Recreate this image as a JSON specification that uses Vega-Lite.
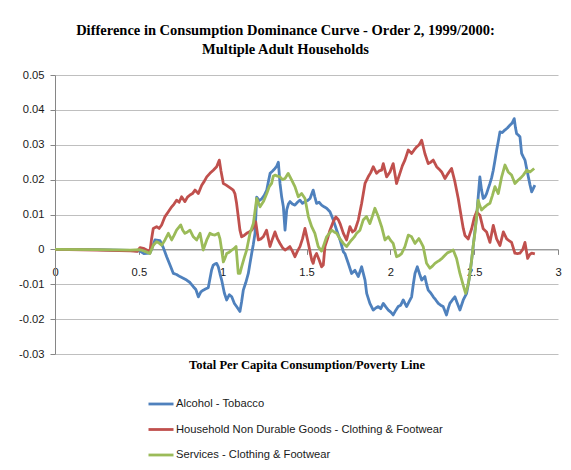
{
  "$schema": "https://vega.github.io/schema/vega-lite/v6.json",
  "width": 503,
  "height": 279,
  "autosize": {"type": "none"},
  "padding": {"left": 55, "top": 75, "right": 13, "bottom": 116},
  "background": "white",
  "title": {
    "text": ["Difference in Consumption Dominance Curve - Order 2, 1999/2000:", "Multiple Adult Households"],
    "font": "Liberation Serif",
    "fontSize": 14.5,
    "fontWeight": "bold",
    "color": "black",
    "anchor": "middle",
    "dx": -21,
    "offset": 12,
    "lineHeight": 19
  },
  "datasets": {
    "series": [
      {"k": "A", "name": "Alcohol - Tobacco"},
      {"k": "H", "name": "Household Non Durable Goods - Clothing & Footwear"},
      {"k": "S", "name": "Services - Clothing & Footwear"}
    ],
    "pts": [
      {"k":"A","x":0,"y":0},{"k":"A","x":0.25,"y":-0.0001},{"k":"A","x":0.45,"y":-0.0003},{"k":"A","x":0.507,"y":-0.0005},{"k":"A","x":0.53,"y":-0.0012},{"k":"A","x":0.566,"y":-0.0011},{"k":"A","x":0.58,"y":0.0005},{"k":"A","x":0.596,"y":0.0027},{"k":"A","x":0.626,"y":0.0025},{"k":"A","x":0.646,"y":0.0005},{"k":"A","x":0.666,"y":-0.0021},{"k":"A","x":0.686,"y":-0.0045},{"k":"A","x":0.706,"y":-0.0069},{"k":"A","x":0.725,"y":-0.0072},{"k":"A","x":0.745,"y":-0.0078},{"k":"A","x":0.765,"y":-0.0083},{"k":"A","x":0.785,"y":-0.0088},{"k":"A","x":0.805,"y":-0.0095},{"k":"A","x":0.825,"y":-0.0107},{"k":"A","x":0.84,"y":-0.0115},{"k":"A","x":0.855,"y":-0.0136},{"k":"A","x":0.87,"y":-0.0122},{"k":"A","x":0.884,"y":-0.0117},{"k":"A","x":0.9,"y":-0.0113},{"k":"A","x":0.914,"y":-0.011},{"k":"A","x":0.934,"y":-0.0059},{"k":"A","x":0.944,"y":-0.0045},{"k":"A","x":0.954,"y":-0.0042},{"k":"A","x":0.964,"y":-0.004},{"k":"A","x":0.974,"y":-0.005},{"k":"A","x":0.984,"y":-0.007},{"k":"A","x":0.994,"y":-0.0088},{"k":"A","x":1.01,"y":-0.0125},{"k":"A","x":1.024,"y":-0.0145},{"k":"A","x":1.04,"y":-0.013},{"k":"A","x":1.054,"y":-0.0136},{"k":"A","x":1.07,"y":-0.0155},{"k":"A","x":1.083,"y":-0.0164},{"k":"A","x":1.103,"y":-0.0178},{"k":"A","x":1.113,"y":-0.015},{"k":"A","x":1.123,"y":-0.0117},{"k":"A","x":1.138,"y":-0.0095},{"k":"A","x":1.153,"y":-0.0069},{"k":"A","x":1.163,"y":-0.004},{"k":"A","x":1.173,"y":-0.0012},{"k":"A","x":1.183,"y":0.0015},{"k":"A","x":1.193,"y":0.0046},{"k":"A","x":1.203,"y":0.015},{"k":"A","x":1.218,"y":0.014},{"k":"A","x":1.233,"y":0.0145},{"k":"A","x":1.248,"y":0.0155},{"k":"A","x":1.263,"y":0.017},{"k":"A","x":1.273,"y":0.0195},{"k":"A","x":1.283,"y":0.0218},{"k":"A","x":1.298,"y":0.0225},{"k":"A","x":1.312,"y":0.0232},{"k":"A","x":1.322,"y":0.0238},{"k":"A","x":1.332,"y":0.025},{"k":"A","x":1.342,"y":0.0189},{"k":"A","x":1.352,"y":0.015},{"k":"A","x":1.362,"y":0.0122},{"k":"A","x":1.372,"y":0.0055},{"k":"A","x":1.382,"y":0.0113},{"k":"A","x":1.392,"y":0.013},{"k":"A","x":1.402,"y":0.0137},{"k":"A","x":1.416,"y":0.013},{"k":"A","x":1.431,"y":0.0127},{"k":"A","x":1.446,"y":0.0135},{"k":"A","x":1.461,"y":0.0141},{"k":"A","x":1.476,"y":0.0132},{"k":"A","x":1.491,"y":0.0137},{"k":"A","x":1.506,"y":0.014},{"k":"A","x":1.521,"y":0.0146},{"k":"A","x":1.54,"y":0.017},{"k":"A","x":1.55,"y":0.015},{"k":"A","x":1.56,"y":0.0132},{"k":"A","x":1.575,"y":0.0135},{"k":"A","x":1.59,"y":0.0127},{"k":"A","x":1.605,"y":0.0122},{"k":"A","x":1.62,"y":0.0118},{"k":"A","x":1.64,"y":0.0108},{"k":"A","x":1.66,"y":0.0084},{"k":"A","x":1.68,"y":0.0055},{"k":"A","x":1.7,"y":0.0027},{"k":"A","x":1.72,"y":-0.0007},{"k":"A","x":1.729,"y":-0.0012},{"k":"A","x":1.749,"y":-0.004},{"k":"A","x":1.769,"y":-0.0069},{"k":"A","x":1.789,"y":-0.006},{"k":"A","x":1.809,"y":-0.0078},{"k":"A","x":1.829,"y":-0.005},{"k":"A","x":1.849,"y":-0.0088},{"k":"A","x":1.859,"y":-0.0126},{"k":"A","x":1.878,"y":-0.0155},{"k":"A","x":1.898,"y":-0.0174},{"k":"A","x":1.913,"y":-0.0168},{"k":"A","x":1.928,"y":-0.0164},{"k":"A","x":1.943,"y":-0.017},{"k":"A","x":1.958,"y":-0.0155},{"k":"A","x":1.973,"y":-0.0165},{"k":"A","x":1.988,"y":-0.0174},{"k":"A","x":2.003,"y":-0.018},{"k":"A","x":2.017,"y":-0.0188},{"k":"A","x":2.032,"y":-0.0175},{"k":"A","x":2.047,"y":-0.0164},{"k":"A","x":2.062,"y":-0.016},{"k":"A","x":2.077,"y":-0.0145},{"k":"A","x":2.087,"y":-0.0155},{"k":"A","x":2.097,"y":-0.0164},{"k":"A","x":2.112,"y":-0.015},{"k":"A","x":2.127,"y":-0.0136},{"k":"A","x":2.137,"y":-0.01},{"k":"A","x":2.147,"y":-0.0069},{"k":"A","x":2.161,"y":-0.005},{"k":"A","x":2.174,"y":-0.007},{"k":"A","x":2.187,"y":-0.0088},{"k":"A","x":2.206,"y":-0.0078},{"k":"A","x":2.216,"y":-0.01},{"k":"A","x":2.226,"y":-0.0117},{"k":"A","x":2.241,"y":-0.0125},{"k":"A","x":2.256,"y":-0.0136},{"k":"A","x":2.271,"y":-0.0145},{"k":"A","x":2.286,"y":-0.0155},{"k":"A","x":2.3,"y":-0.016},{"k":"A","x":2.315,"y":-0.0164},{"k":"A","x":2.335,"y":-0.0188},{"k":"A","x":2.345,"y":-0.017},{"k":"A","x":2.355,"y":-0.0155},{"k":"A","x":2.37,"y":-0.0145},{"k":"A","x":2.385,"y":-0.0136},{"k":"A","x":2.4,"y":-0.0155},{"k":"A","x":2.415,"y":-0.0174},{"k":"A","x":2.435,"y":-0.0145},{"k":"A","x":2.455,"y":-0.0126},{"k":"A","x":2.465,"y":-0.01},{"k":"A","x":2.475,"y":-0.0069},{"k":"A","x":2.485,"y":-0.003},{"k":"A","x":2.494,"y":0.0008},{"k":"A","x":2.504,"y":0.005},{"k":"A","x":2.514,"y":0.0093},{"k":"A","x":2.524,"y":0.015},{"k":"A","x":2.534,"y":0.0208},{"k":"A","x":2.544,"y":0.017},{"k":"A","x":2.554,"y":0.0146},{"k":"A","x":2.564,"y":0.015},{"k":"A","x":2.574,"y":0.016},{"k":"A","x":2.584,"y":0.0175},{"k":"A","x":2.594,"y":0.0189},{"k":"A","x":2.604,"y":0.0205},{"k":"A","x":2.614,"y":0.0227},{"k":"A","x":2.624,"y":0.0255},{"k":"A","x":2.634,"y":0.0284},{"k":"A","x":2.644,"y":0.031},{"k":"A","x":2.654,"y":0.0337},{"k":"A","x":2.668,"y":0.0335},{"k":"A","x":2.683,"y":0.0342},{"k":"A","x":2.698,"y":0.0348},{"k":"A","x":2.713,"y":0.0356},{"k":"A","x":2.726,"y":0.0362},{"k":"A","x":2.739,"y":0.0375},{"k":"A","x":2.746,"y":0.035},{"k":"A","x":2.753,"y":0.0332},{"k":"A","x":2.763,"y":0.0328},{"k":"A","x":2.773,"y":0.0323},{"k":"A","x":2.783,"y":0.0275},{"k":"A","x":2.793,"y":0.0265},{"k":"A","x":2.803,"y":0.0256},{"k":"A","x":2.813,"y":0.0232},{"k":"A","x":2.823,"y":0.0208},{"k":"A","x":2.833,"y":0.0185},{"k":"A","x":2.843,"y":0.0165},{"k":"A","x":2.853,"y":0.0175},{"k":"A","x":2.862,"y":0.0184},
      {"k":"H","x":0,"y":0},{"k":"H","x":0.25,"y":-0.0002},{"k":"H","x":0.45,"y":-0.0004},{"k":"H","x":0.49,"y":-0.0006},{"k":"H","x":0.507,"y":0.0005},{"k":"H","x":0.527,"y":0.0003},{"k":"H","x":0.547,"y":-0.0002},{"k":"H","x":0.566,"y":-0.0007},{"k":"H","x":0.576,"y":0.003},{"k":"H","x":0.586,"y":0.006},{"k":"H","x":0.606,"y":0.0065},{"k":"H","x":0.621,"y":0.006},{"k":"H","x":0.636,"y":0.007},{"k":"H","x":0.656,"y":0.0094},{"k":"H","x":0.676,"y":0.0108},{"k":"H","x":0.696,"y":0.0122},{"k":"H","x":0.71,"y":0.013},{"k":"H","x":0.725,"y":0.0141},{"k":"H","x":0.74,"y":0.0135},{"k":"H","x":0.755,"y":0.0151},{"k":"H","x":0.775,"y":0.0137},{"k":"H","x":0.79,"y":0.015},{"k":"H","x":0.805,"y":0.0156},{"k":"H","x":0.82,"y":0.016},{"k":"H","x":0.835,"y":0.017},{"k":"H","x":0.855,"y":0.016},{"k":"H","x":0.875,"y":0.0184},{"k":"H","x":0.89,"y":0.0195},{"k":"H","x":0.905,"y":0.0208},{"k":"H","x":0.924,"y":0.0218},{"k":"H","x":0.944,"y":0.0227},{"k":"H","x":0.964,"y":0.0237},{"k":"H","x":0.98,"y":0.0256},{"k":"H","x":0.99,"y":0.0225},{"k":"H","x":1.004,"y":0.0189},{"k":"H","x":1.019,"y":0.0185},{"k":"H","x":1.034,"y":0.018},{"k":"H","x":1.049,"y":0.0175},{"k":"H","x":1.063,"y":0.017},{"k":"H","x":1.073,"y":0.016},{"k":"H","x":1.083,"y":0.0132},{"k":"H","x":1.093,"y":0.0094},{"k":"H","x":1.103,"y":0.0055},{"k":"H","x":1.113,"y":0.0036},{"k":"H","x":1.128,"y":0.004},{"k":"H","x":1.143,"y":0.0046},{"k":"H","x":1.158,"y":0.005},{"k":"H","x":1.173,"y":0.0055},{"k":"H","x":1.185,"y":0.0065},{"k":"H","x":1.197,"y":0.0079},{"k":"H","x":1.213,"y":0.0027},{"k":"H","x":1.228,"y":0.003},{"k":"H","x":1.242,"y":0.0036},{"k":"H","x":1.262,"y":0.0055},{"k":"H","x":1.282,"y":0.0008},{"k":"H","x":1.297,"y":0.003},{"k":"H","x":1.312,"y":0.005},{"k":"H","x":1.327,"y":0.003},{"k":"H","x":1.342,"y":0.0017},{"k":"H","x":1.357,"y":0.0005},{"k":"H","x":1.372,"y":-0.0002},{"k":"H","x":1.387,"y":0.0003},{"k":"H","x":1.401,"y":0.0008},{"k":"H","x":1.416,"y":-0.0005},{"k":"H","x":1.431,"y":-0.0021},{"k":"H","x":1.446,"y":-0.0005},{"k":"H","x":1.461,"y":0.0008},{"k":"H","x":1.476,"y":0.003},{"k":"H","x":1.491,"y":0.006},{"k":"H","x":1.511,"y":0.0017},{"k":"H","x":1.531,"y":-0.003},{"k":"H","x":1.54,"y":-0.004},{"k":"H","x":1.55,"y":-0.002},{"k":"H","x":1.56,"y":-0.0012},{"k":"H","x":1.575,"y":-0.003},{"k":"H","x":1.59,"y":-0.005},{"k":"H","x":1.6,"y":-0.0045},{"k":"H","x":1.61,"y":0.0008},{"k":"H","x":1.625,"y":0.003},{"k":"H","x":1.64,"y":0.0055},{"k":"H","x":1.66,"y":0.008},{"k":"H","x":1.675,"y":0.0093},{"k":"H","x":1.69,"y":0.0085},{"k":"H","x":1.7,"y":0.0074},{"k":"H","x":1.72,"y":0.0046},{"k":"H","x":1.739,"y":0.0027},{"k":"H","x":1.759,"y":0.0065},{"k":"H","x":1.774,"y":0.005},{"k":"H","x":1.789,"y":0.0055},{"k":"H","x":1.809,"y":0.0084},{"k":"H","x":1.829,"y":0.0132},{"k":"H","x":1.849,"y":0.0189},{"k":"H","x":1.868,"y":0.0208},{"k":"H","x":1.883,"y":0.022},{"k":"H","x":1.898,"y":0.0237},{"k":"H","x":1.918,"y":0.0218},{"k":"H","x":1.933,"y":0.0225},{"k":"H","x":1.948,"y":0.0227},{"k":"H","x":1.958,"y":0.0246},{"k":"H","x":1.978,"y":0.0208},{"k":"H","x":1.998,"y":0.0222},{"k":"H","x":2.017,"y":0.0246},{"k":"H","x":2.037,"y":0.0189},{"k":"H","x":2.057,"y":0.0218},{"k":"H","x":2.072,"y":0.024},{"k":"H","x":2.087,"y":0.0256},{"k":"H","x":2.107,"y":0.0285},{"k":"H","x":2.127,"y":0.0275},{"k":"H","x":2.142,"y":0.0285},{"k":"H","x":2.157,"y":0.0294},{"k":"H","x":2.172,"y":0.03},{"k":"H","x":2.187,"y":0.0313},{"k":"H","x":2.206,"y":0.0275},{"k":"H","x":2.226,"y":0.0246},{"k":"H","x":2.241,"y":0.025},{"k":"H","x":2.256,"y":0.0256},{"k":"H","x":2.276,"y":0.0237},{"k":"H","x":2.291,"y":0.023},{"k":"H","x":2.306,"y":0.0222},{"k":"H","x":2.326,"y":0.0203},{"k":"H","x":2.345,"y":0.0218},{"k":"H","x":2.365,"y":0.0232},{"k":"H","x":2.385,"y":0.0194},{"k":"H","x":2.405,"y":0.0146},{"k":"H","x":2.425,"y":0.0088},{"k":"H","x":2.435,"y":0.006},{"k":"H","x":2.445,"y":0.004},{"k":"H","x":2.465,"y":0.003},{"k":"H","x":2.475,"y":0.0045},{"k":"H","x":2.485,"y":0.0059},{"k":"H","x":2.5,"y":0.009},{"k":"H","x":2.514,"y":0.0107},{"k":"H","x":2.534,"y":0.0098},{"k":"H","x":2.554,"y":0.0059},{"k":"H","x":2.574,"y":0.005},{"k":"H","x":2.594,"y":0.002},{"k":"H","x":2.614,"y":0.0069},{"k":"H","x":2.634,"y":0.003},{"k":"H","x":2.654,"y":0.0011},{"k":"H","x":2.674,"y":0.005},{"k":"H","x":2.694,"y":0.003},{"k":"H","x":2.708,"y":0.0025},{"k":"H","x":2.723,"y":0.002},{"k":"H","x":2.743,"y":-0.0011},{"k":"H","x":2.758,"y":-0.0012},{"k":"H","x":2.773,"y":-0.0011},{"k":"H","x":2.79,"y":0},{"k":"H","x":2.803,"y":0.002},{"k":"H","x":2.819,"y":-0.0026},{"k":"H","x":2.831,"y":-0.0015},{"k":"H","x":2.843,"y":-0.0011},{"k":"H","x":2.862,"y":-0.0013},
      {"k":"S","x":0,"y":0},{"k":"S","x":0.25,"y":-0.0001},{"k":"S","x":0.45,"y":-0.0002},{"k":"S","x":0.507,"y":-0.0001},{"k":"S","x":0.527,"y":-0.0004},{"k":"S","x":0.547,"y":-0.0008},{"k":"S","x":0.566,"y":-0.0012},{"k":"S","x":0.586,"y":0.0012},{"k":"S","x":0.606,"y":0.0022},{"k":"S","x":0.621,"y":0.0018},{"k":"S","x":0.636,"y":0.0012},{"k":"S","x":0.656,"y":0.0027},{"k":"S","x":0.676,"y":0.0046},{"k":"S","x":0.696,"y":0.0027},{"k":"S","x":0.71,"y":0.004},{"k":"S","x":0.725,"y":0.0055},{"k":"S","x":0.75,"y":0.007},{"k":"S","x":0.762,"y":0.0055},{"k":"S","x":0.775,"y":0.0046},{"k":"S","x":0.79,"y":0.005},{"k":"S","x":0.805,"y":0.0055},{"k":"S","x":0.825,"y":0.0036},{"k":"S","x":0.845,"y":0.0027},{"k":"S","x":0.865,"y":0.0046},{"k":"S","x":0.884,"y":-0.0002},{"k":"S","x":0.905,"y":0.0027},{"k":"S","x":0.924,"y":0.0046},{"k":"S","x":0.94,"y":0.0042},{"k":"S","x":0.954,"y":0.0041},{"k":"S","x":0.974,"y":0.0046},{"k":"S","x":0.984,"y":0.003},{"k":"S","x":0.994,"y":-0.0002},{"k":"S","x":1.004,"y":-0.0036},{"k":"S","x":1.014,"y":-0.0025},{"k":"S","x":1.024,"y":-0.0012},{"k":"S","x":1.039,"y":-0.0008},{"k":"S","x":1.054,"y":-0.0002},{"k":"S","x":1.067,"y":0.0002},{"k":"S","x":1.08,"y":0.0008},{"k":"S","x":1.093,"y":-0.0069},{"k":"S","x":1.103,"y":-0.0069},{"k":"S","x":1.113,"y":-0.005},{"k":"S","x":1.128,"y":-0.0025},{"k":"S","x":1.143,"y":-0.0002},{"k":"S","x":1.163,"y":0.0046},{"k":"S","x":1.183,"y":0.0074},{"k":"S","x":1.203,"y":0.0146},{"k":"S","x":1.223,"y":0.0122},{"k":"S","x":1.243,"y":0.0137},{"k":"S","x":1.263,"y":0.016},{"k":"S","x":1.278,"y":0.018},{"k":"S","x":1.292,"y":0.0189},{"k":"S","x":1.302,"y":0.021},{"k":"S","x":1.312,"y":0.0213},{"k":"S","x":1.327,"y":0.021},{"k":"S","x":1.342,"y":0.0208},{"k":"S","x":1.357,"y":0.02},{"k":"S","x":1.372,"y":0.0203},{"k":"S","x":1.391,"y":0.0218},{"k":"S","x":1.411,"y":0.0199},{"k":"S","x":1.431,"y":0.018},{"k":"S","x":1.451,"y":0.0151},{"k":"S","x":1.471,"y":0.016},{"k":"S","x":1.491,"y":0.0146},{"k":"S","x":1.511,"y":0.0094},{"k":"S","x":1.531,"y":0.0065},{"k":"S","x":1.55,"y":0.0046},{"k":"S","x":1.57,"y":0.0008},{"k":"S","x":1.59,"y":-0.0005},{"k":"S","x":1.605,"y":0.0015},{"k":"S","x":1.62,"y":0.0036},{"k":"S","x":1.635,"y":0.0045},{"k":"S","x":1.65,"y":0.0055},{"k":"S","x":1.665,"y":0.005},{"k":"S","x":1.68,"y":0.0046},{"k":"S","x":1.7,"y":0.003},{"k":"S","x":1.72,"y":0.0017},{"k":"S","x":1.739,"y":0.0008},{"k":"S","x":1.754,"y":0.0018},{"k":"S","x":1.769,"y":0.0027},{"k":"S","x":1.784,"y":0.0035},{"k":"S","x":1.799,"y":0.0046},{"k":"S","x":1.819,"y":0.0055},{"k":"S","x":1.838,"y":0.0084},{"k":"S","x":1.858,"y":0.0094},{"k":"S","x":1.878,"y":0.0074},{"k":"S","x":1.893,"y":0.0095},{"k":"S","x":1.908,"y":0.0118},{"k":"S","x":1.928,"y":0.0094},{"k":"S","x":1.948,"y":0.0065},{"k":"S","x":1.968,"y":0.0027},{"k":"S","x":1.988,"y":0.0036},{"k":"S","x":2.003,"y":0.0025},{"k":"S","x":2.017,"y":0.0017},{"k":"S","x":2.037,"y":-0.0021},{"k":"S","x":2.052,"y":-0.0018},{"k":"S","x":2.067,"y":-0.0012},{"k":"S","x":2.087,"y":0.0008},{"k":"S","x":2.107,"y":0.0041},{"k":"S","x":2.127,"y":0.0036},{"k":"S","x":2.147,"y":0.0017},{"k":"S","x":2.17,"y":0.0031},{"k":"S","x":2.183,"y":0.002},{"k":"S","x":2.196,"y":0.0008},{"k":"S","x":2.216,"y":-0.004},{"k":"S","x":2.236,"y":-0.0054},{"k":"S","x":2.251,"y":-0.0048},{"k":"S","x":2.266,"y":-0.004},{"k":"S","x":2.281,"y":-0.0035},{"k":"S","x":2.295,"y":-0.0031},{"k":"S","x":2.31,"y":-0.0025},{"k":"S","x":2.326,"y":-0.0017},{"k":"S","x":2.34,"y":-0.001},{"k":"S","x":2.355,"y":-0.0007},{"k":"S","x":2.375,"y":-0.0002},{"k":"S","x":2.395,"y":-0.0026},{"k":"S","x":2.415,"y":-0.0069},{"k":"S","x":2.435,"y":-0.0103},{"k":"S","x":2.449,"y":-0.0126},{"k":"S","x":2.459,"y":-0.011},{"k":"S","x":2.469,"y":-0.0088},{"k":"S","x":2.485,"y":-0.003},{"k":"S","x":2.494,"y":0.001},{"k":"S","x":2.504,"y":0.0045},{"k":"S","x":2.514,"y":0.009},{"k":"S","x":2.524,"y":0.0141},{"k":"S","x":2.534,"y":0.0125},{"k":"S","x":2.544,"y":0.0113},{"k":"S","x":2.564,"y":0.0122},{"k":"S","x":2.579,"y":0.0128},{"k":"S","x":2.594,"y":0.0132},{"k":"S","x":2.609,"y":0.0155},{"k":"S","x":2.624,"y":0.018},{"k":"S","x":2.644,"y":0.016},{"k":"S","x":2.664,"y":0.0208},{"k":"S","x":2.684,"y":0.0242},{"k":"S","x":2.703,"y":0.0222},{"k":"S","x":2.723,"y":0.0213},{"k":"S","x":2.743,"y":0.0189},{"k":"S","x":2.763,"y":0.0199},{"k":"S","x":2.778,"y":0.0205},{"k":"S","x":2.793,"y":0.0213},{"k":"S","x":2.813,"y":0.0227},{"k":"S","x":2.833,"y":0.0222},{"k":"S","x":2.858,"y":0.0232}
    ]
  },
  "data": {"name": "pts"},
  "transform": [
    {"lookup": "k", "from": {"data": {"name": "series"}, "key": "k", "fields": ["name"]}}
  ],
  "mark": {"type": "line", "strokeWidth": 2.8, "strokeJoin": "round"},
  "encoding": {
    "x": {
      "field": "x",
      "type": "quantitative",
      "scale": {"domain": [0, 3], "nice": false, "zero": false},
      "axis": {
        "values": [0, 0.5, 1, 1.5, 2, 2.5, 3],
        "format": "~g",
        "offset": -104.625,
        "grid": false,
        "labelFlush": false,
        "domainColor": "#868686",
        "tickColor": "#868686",
        "tickSize": 5,
        "labelPadding": 12,
        "labelFont": "Liberation Sans",
        "labelFontSize": 11.2,
        "labelColor": "#1a1a1a",
        "title": "Total Per Capita Consumption/Poverty Line",
        "titleFont": "Liberation Serif",
        "titleFontSize": 12.5,
        "titleFontWeight": "bold",
        "titleColor": "black",
        "titleY": 115,
        "titleBaseline": "middle"
      }
    },
    "y": {
      "field": "y",
      "type": "quantitative",
      "scale": {"domain": [-0.03, 0.05], "nice": false},
      "axis": {
        "values": [-0.03, -0.02, -0.01, 0, 0.01, 0.02, 0.03, 0.04, 0.05],
        "labelExpr": "datum.value == 0 ? '0' : (datum.value < 0 ? '-' + format(-datum.value, '.2f') : format(datum.value, '.2f'))",
        "title": null,
        "grid": true,
        "gridColor": "#BFBFBF",
        "gridWidth": 1,
        "domainColor": "#868686",
        "tickColor": "#868686",
        "tickSize": 5,
        "labelPadding": 6,
        "labelFont": "Liberation Sans",
        "labelFontSize": 11.2,
        "labelColor": "#1a1a1a"
      }
    },
    "color": {
      "field": "name",
      "type": "nominal",
      "scale": {
        "domain": ["Alcohol - Tobacco", "Household Non Durable Goods - Clothing & Footwear", "Services - Clothing & Footwear"],
        "range": ["#4F81BD", "#C0504D", "#9BBB59"]
      },
      "legend": {
        "orient": "none",
        "legendX": 92,
        "legendY": 315,
        "direction": "vertical",
        "title": null,
        "symbolType": "stroke",
        "symbolSize": 625,
        "symbolStrokeWidth": 2.8,
        "labelFont": "Liberation Sans",
        "labelFontSize": 11.2,
        "labelColor": "#1a1a1a",
        "labelOffset": 1,
        "labelLimit": 400,
        "rowPadding": 5.5
      }
    }
  },
  "config": {"view": {"stroke": null}}
}
